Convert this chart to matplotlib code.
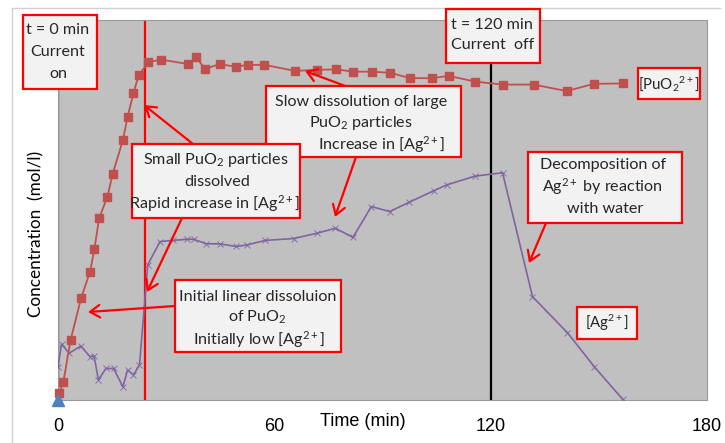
import matplotlib
matplotlib.use("Agg")
import matplotlib.pyplot as plt
from matplotlib.patches import Rectangle, FancyArrowPatch
from matplotlib.lines import Line2D

plt.rcParams['mathtext.fontset'] = 'custom'
plt.rcParams['mathtext.rm'] = 'Lato'
plt.rcParams['mathtext.it'] = 'Lato:italic'
plt.rcParams['mathtext.bf'] = 'Lato:bold'

# ---------------- data ----------------
time_pu = [0.4, 1.5, 3.5, 6.4, 8.9, 10.1, 11.4, 13.7, 15.2, 18.0, 19.3, 20.9, 22.4,
           25.1, 28.5, 36.1, 38.3, 40.8, 44.8, 49.3, 52.6, 57.2, 65.8, 71.9, 77.2,
           81.9, 87.0, 92.2, 97.6, 103.8, 108.4, 115.6, 123.3, 131.9, 141.1, 148.6, 156.8]
conc_pu = [1.9, 4.8, 15.8, 26.8, 33.8, 39.7, 47.8, 53.5, 59.6, 68.4, 74.5, 80.7, 85.5,
           88.9, 89.6, 88.4, 90.2, 87.1, 88.4, 87.7, 88.2, 88.2, 86.6, 86.9, 87.0,
           86.4, 86.4, 86.1, 84.7, 84.7, 85.3, 83.8, 83.0, 83.0, 81.3, 83.2, 83.3]

time_ag = [0, 1.0, 3.1, 6.3, 8.9, 10.0, 11.2, 13.3, 15.4, 18.0, 19.3, 20.9, 22.6,
           24.9, 28.3, 31.9, 35.8, 37.6, 41.1, 44.8, 49.4, 52.4, 57.5, 65.4, 71.9,
           76.9, 81.8, 86.9, 92.0, 97.3, 104.3, 107.8, 115.6, 123.3, 131.6, 141.3,
           148.7, 156.6]
conc_ag = [8.8, 14.7, 12.3, 14.2, 11.4, 11.6, 5.3, 8.3, 8.3, 3.5, 7.9, 6.6, 9.2,
           35.6, 41.7, 42.0, 42.3, 42.3, 41.1, 41.1, 40.4, 40.8, 42.0, 42.5, 43.9,
           45.2, 42.8, 50.9, 49.6, 52.0, 55.1, 56.6, 58.9, 59.8, 27.2, 17.7,
           8.8, 0.2]

start_time = [0]
start_conc = [0]

current_on_time = 0
current_off_time = 120
small_particles_time = 24

xticks = [0, 60, 120, 180]
xtick_labels = ['0', '60', '120', '180']

# ---------------- figure ----------------
W, H = 725, 443
fig = plt.figure(figsize=(W / 100, H / 100), dpi=100)
fig.patch.set_facecolor('white')


def fx(x):
    return x / W


def fy(y):
    return 1 - y / H


ax = fig.add_axes([fx(58), fy(400), (707 - 58) / W, (400 - 20) / H])
ax.set_facecolor('#c0c0c0')
ax.set_xlim(0, 180)
ax.set_ylim(0, 100)
ax.set_xticks(xticks)
ax.set_xticklabels(xtick_labels, fontfamily='Liberation Sans', fontsize=13)
ax.set_yticks([])
ax.tick_params(axis='x', length=0, pad=13)
for s in ax.spines.values():
    s.set_color('#9a9a9a')
    s.set_linewidth(0.8)

# vertical markers
ax.axvline(current_on_time, color='black', lw=1.6, zorder=2)
ax.axvline(current_off_time, color='black', lw=1.6, zorder=2)
ax.axvline(small_particles_time, color='#ff0000', lw=1.6, zorder=2)

# series
ax.plot(time_pu, conc_pu, color='#c0504d', lw=1.3, marker='s', markersize=5.5,
        clip_on=False, zorder=4)
ax.plot(time_ag, conc_ag, color='#8064a2', lw=1.2, marker='x', markersize=4.5,
        markeredgewidth=0.6, zorder=3)
ax.plot(start_time, start_conc, linestyle='none', marker='^', markersize=8,
        color='#4f81bd', clip_on=False, zorder=5)

# outer chart frame
fig.add_artist(Line2D([fx(12), fx(720)], [fy(8), fy(8)], transform=fig.transFigure,
                      color='#d0d0d0', lw=1))
fig.add_artist(Line2D([fx(12), fx(12)], [fy(8), fy(443)], transform=fig.transFigure,
                      color='#d0d0d0', lw=1))

# axis labels
fig.text(fx(362.5), fy(421), 'Time (min)', ha='center', va='center',
         fontfamily='Liberation Sans', fontsize=13)
fig.text(fx(36.5), fy(234), 'Concentration  (mol/l)', ha='center', va='center',
         rotation=90, fontfamily='Lato', fontsize=12.3)

FS = 11.6


def box(x0, y0, x1, y1):
    r = Rectangle((fx(x0), fy(y1)), (x1 - x0) / W, (y1 - y0) / H,
                  transform=fig.transFigure, facecolor='#f2f2f2',
                  edgecolor='#ff0000', lw=1.6, zorder=5)
    fig.add_artist(r)


def line(x, y, s, fs=FS):
    fig.text(fx(x), fy(y), s, ha='center', va='center', fontfamily='Lato',
             fontsize=fs, color='#262626', zorder=6)


def arrow(x0, y0, x1, y1):
    a = FancyArrowPatch((fx(x0), fy(y0)), (fx(x1), fy(y1)),
                        transform=fig.transFigure,
                        arrowstyle='->,head_length=0.7,head_width=0.45',
                        mutation_scale=10, color='#ff0000', lw=1.6,
                        shrinkA=0, shrinkB=0, zorder=4)
    fig.add_artist(a)


AG = r'[Ag$^{\mathrm{2+}}$]'
PUO2 = r'PuO$_{\mathrm{2}}$'

# t = 0 box
box(23, 15, 97, 89)
line(58, 30, 't = 0 min')
line(58, 52, 'Current')
line(58, 74, 'on')

# t = 120 box
box(446, 9, 540, 63)
line(492, 25, 't = 120 min')
line(493, 45, 'Current  off')

# PuO2 label
box(638, 68, 700, 99)
line(669, 84, r'[PuO$_{\mathrm{2}}$$^{\mathrm{2+}}$]', fs=10.8)

# Ag label
box(577, 307, 637, 339)
line(607, 323, AG, fs=10.8)

# slow dissolution
arrow(348, 87, 305, 71)
arrow(356, 157, 335, 217)
box(266, 86, 461, 157)
line(361, 102, 'Slow dissolution of large')
line(361, 123, PUO2 + ' particles')
line(382, 145, 'Increase in ' + AG)

# small particles
arrow(193, 144, 144, 105)
arrow(182, 218, 147, 292)
box(132, 144, 300, 218)
line(216, 160, 'Small ' + PUO2 + ' particles')
line(217, 182, 'dissolved')
line(214, 204, 'Rapid increase in ' + AG)

# initial linear
arrow(175, 306, 88, 312)
box(175, 280, 341, 352)
line(258, 297, 'Initial linear dissoluion')
line(257, 317, 'of ' + PUO2)
line(259, 340, 'Initially low ' + AG)

# decomposition
arrow(546, 223, 529, 263)
box(528, 152, 682, 223)
line(603, 165, 'Decomposition of')
line(602, 187, r'Ag$^{\mathrm{2+}}$ by reaction')
line(605, 209, 'with water')

fig.savefig('out.png', dpi=100)
